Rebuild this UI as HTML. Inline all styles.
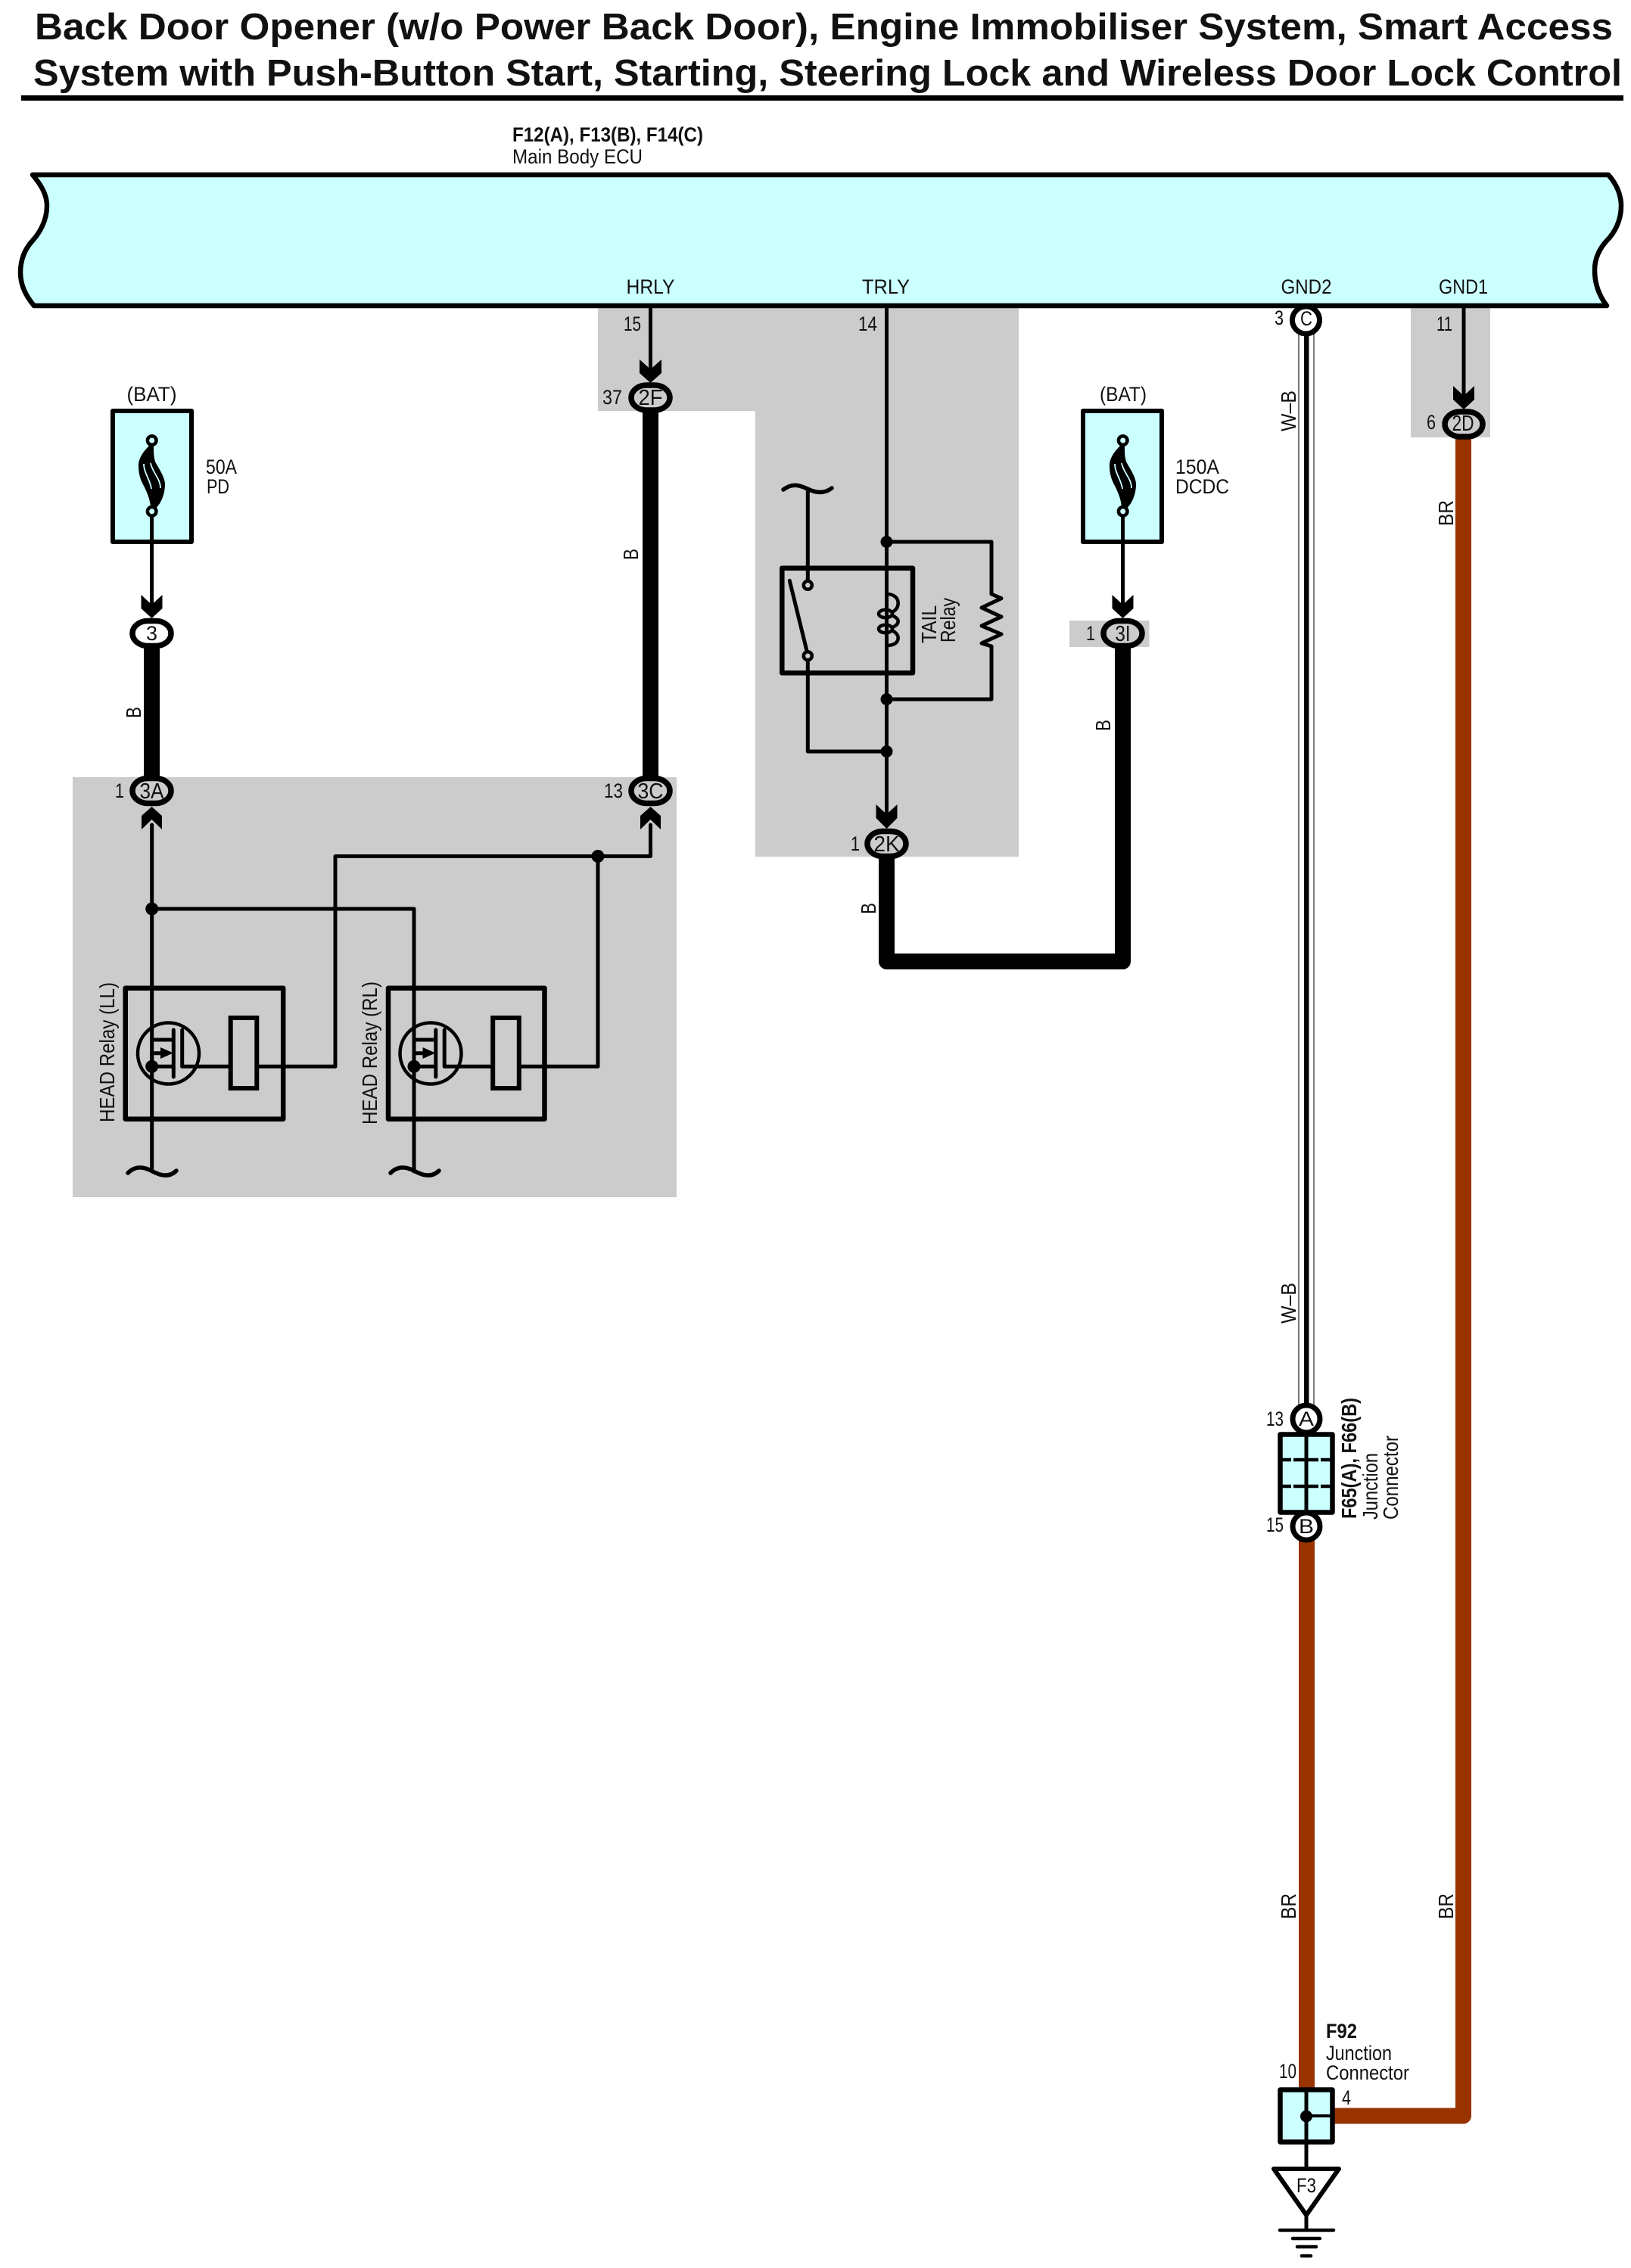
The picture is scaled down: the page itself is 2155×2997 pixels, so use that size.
<!DOCTYPE html>
<html><head><meta charset="utf-8"><title>Back Door Opener Wiring Diagram</title>
<style>
html,body{margin:0;padding:0;background:#fff}
svg{display:block}
text{font-family:"Liberation Sans",sans-serif;fill:#111;font-size:27px}
.r{font-size:28px}
.l{font-size:29px}
.w{fill:none;stroke:#000;stroke-width:5;stroke-linejoin:round;stroke-linecap:round}
.b{fill:#CCFFFF;stroke:#000;stroke-width:6.5;stroke-linejoin:round}
.n{fill:none;stroke:#000;stroke-width:6.5;stroke-linejoin:round}
.c{stroke:#000;stroke-width:7.5;fill:#ccc}
.m{text-anchor:middle}
</style></head><body>
<svg width="2155" height="2997" viewBox="0 0 2155 2997" xmlns="http://www.w3.org/2000/svg">
<rect width="2155" height="2997" fill="#fff"/>

<!-- title -->
<text x="46" y="52" style="font-size:49px;font-weight:bold" textLength="2085" lengthAdjust="spacingAndGlyphs">Back Door Opener (w/o Power Back Door), Engine Immobiliser System, Smart Access</text>
<text x="44" y="113" style="font-size:49px;font-weight:bold" textLength="2099" lengthAdjust="spacingAndGlyphs">System with Push-Button Start, Starting, Steering Lock and Wireless Door Lock Control</text>
<rect x="28" y="126" width="2117" height="7" fill="#000"/>

<text x="677" y="187" style="font-weight:bold" textLength="252" lengthAdjust="spacingAndGlyphs">F12(A), F13(B), F14(C)</text>
<text x="677" y="216" textLength="172" lengthAdjust="spacingAndGlyphs">Main Body ECU</text>

<!-- gray regions -->
<path d="M790 405H1346V1132H998V543H790Z" fill="#ccc"/>
<rect x="1864" y="405" width="105" height="173" fill="#ccc"/>
<rect x="96" y="1027" width="798" height="555" fill="#ccc"/>
<rect x="1413" y="820" width="105.500" height="35" fill="#ccc"/>

<!-- ECU -->
<path d="M43 231H2125C2136 243 2142 258 2142 272C2142 292 2133 308 2123 318C2112 330 2107 343 2107 357C2107 376 2113 391 2123 404H45C35 392 27 378 27 360C27 345 32 330 43 318C52 308 62 292 62 272C62 258 55 245 43 231Z" fill="#CCFFFF" stroke="#000" stroke-width="6.500" stroke-linejoin="round"/>
<text x="859.500" y="388" class="m" textLength="64" lengthAdjust="spacingAndGlyphs">HRLY</text>
<text x="1170.500" y="388" class="m" textLength="63" lengthAdjust="spacingAndGlyphs">TRLY</text>
<text x="1726" y="388" class="m" textLength="67" lengthAdjust="spacingAndGlyphs">GND2</text>
<text x="1933.500" y="388" class="m" textLength="65" lengthAdjust="spacingAndGlyphs">GND1</text>

<!-- thick wires -->
<g fill="none" stroke="#000" stroke-width="21" stroke-linejoin="round">
<path d="M200.500 855V1030"/>
<path d="M859.500 543V1030"/>
<path d="M1171.500 1133V1270.500H1483.500V855"/>
</g>
<g fill="none" stroke="#993300" stroke-width="21" stroke-linejoin="round">
<path d="M1726.500 2030V2760"/>
<path d="M1933.500 578V2796H1762"/>
</g>

<!-- W-B wire -->
<path d="M1716 440V1860" stroke="#777" stroke-width="2" fill="none"/>
<path d="M1736 440V1860" stroke="#555" stroke-width="1.500" fill="none"/>
<rect x="1723" y="440" width="6.500" height="1420" fill="#000"/>

<!-- thin wires top -->
<path class="w" d="M859.500 408V490"/>
<path class="w" d="M1171.500 408V1080"/>
<path class="w" d="M1934 408V525"/>

<!-- fuses -->
<g>
<rect x="149" y="543" width="104" height="173" fill="#CCFFFF" stroke="#000" stroke-width="6" stroke-linejoin="round"/>
<path class="w" d="M200.500 680V800"/>
<path d="M198 588C190 596 183 605 183 615C183 627 186 635 190 642C195 652 198 660 199 670L205 672C211 668 218 655 218 640C218 630 209 618 205 610C203 603 203 598 203 590Z" fill="#000"/>
<path d="M190 613C190 625 199 635 200 646M199 612C201 624 212 632 212 645" fill="none" stroke="#CCFFFF" stroke-width="1.800"/>
<circle cx="200.700" cy="582" r="5.800" fill="#CCFFFF" stroke="#000" stroke-width="4.500"/>
<circle cx="200.700" cy="675.700" r="5.800" fill="#CCFFFF" stroke="#000" stroke-width="4.500"/>
</g>
<g>
<rect x="1431" y="543" width="104" height="173" fill="#CCFFFF" stroke="#000" stroke-width="6" stroke-linejoin="round"/>
<path class="w" d="M1483.500 680V800"/>
<path d="M1481 588C1473 596 1466 605 1466 615C1466 627 1469 635 1473 642C1478 652 1481 660 1482 670L1488 672C1494 668 1501 655 1501 640C1501 630 1492 618 1488 610C1486 603 1486 598 1486 590Z" fill="#000"/>
<path d="M1473 613C1473 625 1482 635 1483 646M1482 612C1484 624 1495 632 1495 645" fill="none" stroke="#CCFFFF" stroke-width="1.800"/>
<circle cx="1483.700" cy="582" r="5.800" fill="#CCFFFF" stroke="#000" stroke-width="4.500"/>
<circle cx="1483.700" cy="675.700" r="5.800" fill="#CCFFFF" stroke="#000" stroke-width="4.500"/>
</g>
<text x="200.500" y="530" class="m" textLength="66" lengthAdjust="spacingAndGlyphs">(BAT)</text>
<text x="1484" y="530" class="m" textLength="62" lengthAdjust="spacingAndGlyphs">(BAT)</text>
<text x="272" y="626" textLength="41" lengthAdjust="spacingAndGlyphs">50A</text>
<text x="273" y="652" textLength="30" lengthAdjust="spacingAndGlyphs">PD</text>
<text x="1553" y="626" textLength="58" lengthAdjust="spacingAndGlyphs">150A</text>
<text x="1553" y="652" textLength="71" lengthAdjust="spacingAndGlyphs">DCDC</text>

<!-- arrowheads -->
<g fill="#000">
<path d="M845 475L859.500 488L874 475V493L859.500 506L845 493Z"/>
<path d="M186.500 786L200.500 799L214.500 786V804L200.500 817L186.500 804Z"/>
<path d="M1469.500 786L1483.500 799L1497.500 786V804L1483.500 817L1469.500 804Z"/>
<path d="M1157.500 1063L1171.500 1076L1185.500 1063V1081L1171.500 1095L1157.500 1081Z"/>
<path d="M1920 510L1934 523L1948 510V528L1934 541L1920 528Z"/>
<path d="M187 1096L200.500 1083L214 1096V1078L200.500 1066L187 1078Z"/>
<path d="M846 1096L859.500 1083L873 1096V1078L859.500 1066L846 1078Z"/>
</g>

<!-- connectors -->
<rect class="c" x="834" y="509" width="51" height="33" rx="20" ry="16.500"/>
<rect class="c" x="175" y="820.500" width="51" height="33" rx="20" ry="16.500" style="fill:#fff"/>
<rect class="c" x="175" y="1028.500" width="51" height="33" rx="20" ry="16.500"/>
<rect class="c" x="834" y="1028.500" width="51" height="33" rx="20" ry="16.500"/>
<rect class="c" x="1146" y="1098.500" width="51" height="33" rx="20" ry="16.500"/>
<rect class="c" x="1458" y="820.500" width="51" height="33" rx="20" ry="16.500"/>
<rect class="c" x="1909" y="544" width="50" height="33" rx="20" ry="16.500"/>
<circle cx="1725.500" cy="423" r="18" fill="#fff" stroke="#000" stroke-width="7"/>
<text x="859.500" y="535" class="m l" textLength="32" lengthAdjust="spacingAndGlyphs">2F</text>
<text x="200.500" y="846" class="m">3</text>
<text x="200.500" y="1055" class="m l" textLength="32" lengthAdjust="spacingAndGlyphs">3A</text>
<text x="859.500" y="1055" class="m l" textLength="34" lengthAdjust="spacingAndGlyphs">3C</text>
<text x="1171.500" y="1125" class="m l" textLength="34" lengthAdjust="spacingAndGlyphs">2K</text>
<text x="1483.500" y="847" class="m l" textLength="20" lengthAdjust="spacingAndGlyphs">3I</text>
<text x="1933" y="569" class="m l" textLength="29" lengthAdjust="spacingAndGlyphs">2D</text>
<text x="1726" y="430" class="m" textLength="16" lengthAdjust="spacingAndGlyphs">C</text>

<!-- pin numbers -->
<text x="824" y="437" textLength="23" lengthAdjust="spacingAndGlyphs">15</text>
<text x="796" y="534" textLength="26" lengthAdjust="spacingAndGlyphs">37</text>
<text x="1134" y="437" textLength="25" lengthAdjust="spacingAndGlyphs">14</text>
<text x="1684" y="429" textLength="12" lengthAdjust="spacingAndGlyphs">3</text>
<text x="1898" y="437" textLength="21" lengthAdjust="spacingAndGlyphs">11</text>
<text x="1885" y="567" textLength="12" lengthAdjust="spacingAndGlyphs">6</text>
<text x="152" y="1054" textLength="12" lengthAdjust="spacingAndGlyphs">1</text>
<text x="798" y="1054" textLength="25" lengthAdjust="spacingAndGlyphs">13</text>
<text x="1124" y="1124" textLength="12" lengthAdjust="spacingAndGlyphs">1</text>
<text x="1435" y="846" textLength="12" lengthAdjust="spacingAndGlyphs">1</text>

<!-- wire labels -->
<g>
<text class="r" transform="translate(186,949) rotate(-90)" textLength="15" lengthAdjust="spacingAndGlyphs">B</text>
<text class="r" transform="translate(843,740) rotate(-90)" textLength="15" lengthAdjust="spacingAndGlyphs">B</text>
<text class="r" transform="translate(1157,1208) rotate(-90)" textLength="15" lengthAdjust="spacingAndGlyphs">B</text>
<text class="r" transform="translate(1467,966) rotate(-90)" textLength="15" lengthAdjust="spacingAndGlyphs">B</text>
<text class="r" transform="translate(1712,570) rotate(-90)" textLength="54" lengthAdjust="spacingAndGlyphs">W–B</text>
<text class="r" transform="translate(1712,1749) rotate(-90)" textLength="54" lengthAdjust="spacingAndGlyphs">W–B</text>
<text class="r" transform="translate(1920,695) rotate(-90)" textLength="34" lengthAdjust="spacingAndGlyphs">BR</text>
<text class="r" transform="translate(1712,2536) rotate(-90)" textLength="34" lengthAdjust="spacingAndGlyphs">BR</text>
<text class="r" transform="translate(1920,2536) rotate(-90)" textLength="34" lengthAdjust="spacingAndGlyphs">BR</text>
</g>

<!-- head relays wiring -->
<path class="w" d="M200.700 1090V1548"/>
<path class="w" d="M200.700 1201H547V1548"/>
<path class="w" d="M859.500 1090V1131.500H443V1409.300H341"/>
<path class="w" d="M790 1131.500V1409.300H687"/>
<circle cx="200.700" cy="1201" r="8.500"/>
<circle cx="790" cy="1131.500" r="8.500"/>

<rect class="n" x="165.700" y="1305.700" width="208.500" height="173"/>
<rect class="n" x="513" y="1305.700" width="206.500" height="173"/>

<g>
<circle cx="222.500" cy="1392" r="40.500" fill="none" stroke="#000" stroke-width="4.500"/>
<path class="w" d="M229.300 1361V1423M240.700 1361V1409.300H305M200.700 1374H229M200.700 1409.300V1391.700H215M200.700 1409.300H229"/>
<path d="M212 1384L229 1391.500L212 1399Z" fill="#000"/>
<circle cx="200.700" cy="1409.300" r="8.500"/>
<rect x="304.700" y="1345" width="34.600" height="93" fill="none" stroke="#000" stroke-width="6"/>
</g>
<g>
<circle cx="569" cy="1392" r="40.500" fill="none" stroke="#000" stroke-width="4.500"/>
<path class="w" d="M575.800 1361V1423M587.200 1361V1409.300H651.500M547 1374H575.500M547 1409.300V1391.700H561.500M547 1409.300H575.500"/>
<path d="M558.500 1384L575.500 1391.500L558.500 1399Z" fill="#000"/>
<circle cx="547" cy="1409.300" r="8.500"/>
<rect x="651.200" y="1345" width="34.600" height="93" fill="none" stroke="#000" stroke-width="6"/>
</g>

<path d="M169 1550C178 1541 188 1541 200 1547C212 1554 224 1556 233 1547" fill="none" stroke="#000" stroke-width="5.500" stroke-linecap="round"/>
<path d="M516 1550C525 1541 535 1541 547 1547C559 1554 571 1556 580 1547" fill="none" stroke="#000" stroke-width="5.500" stroke-linecap="round"/>

<text class="r" transform="translate(151,1483) rotate(-90)" textLength="185" lengthAdjust="spacingAndGlyphs">HEAD Relay (LL)</text>
<text class="r" transform="translate(498,1486) rotate(-90)" textLength="189" lengthAdjust="spacingAndGlyphs">HEAD Relay (RL)</text>

<!-- tail relay -->
<path class="w" d="M1171.500 716H1310V785L1323 790.700L1297 803L1323 815L1297 827L1323 838L1297 850L1310 854V924H1171.500"/>
<circle cx="1171.500" cy="716" r="8"/>
<circle cx="1171.500" cy="924" r="8"/>
<circle cx="1171.500" cy="993" r="8"/>
<rect class="n" x="1033.300" y="750.700" width="172.700" height="138.600"/>
<path d="M1035 647C1047 638 1056 641 1067 646C1079 652 1090 652 1099 645" fill="none" stroke="#000" stroke-width="5.500" stroke-linecap="round"/>
<path class="w" d="M1067.300 646V768M1043.300 767.300L1066 860M1067.300 873V993H1171.500"/>
<circle cx="1067.300" cy="773.300" r="5.500" fill="#ccc" stroke="#000" stroke-width="4.500"/>
<circle cx="1067.300" cy="866.700" r="5.500" fill="#ccc" stroke="#000" stroke-width="4.500"/>
<g fill="none" stroke="#000" stroke-width="4.500">
<path d="M1171.700 785C1181 785 1186.700 790 1186.700 797C1186.700 802 1184 806 1179 809"/>
<ellipse cx="1170" cy="811" rx="9" ry="5.300"/>
<path d="M1179 813C1184 816 1186.700 818 1186.700 821C1186.700 824 1184 827 1179 829"/>
<ellipse cx="1170" cy="831" rx="9" ry="5.300"/>
<path d="M1179 833C1184 836 1186.700 839 1186.700 843C1186.700 849 1181 853 1171.700 853"/>
</g>
<text class="r" transform="translate(1237,850) rotate(-90)" textLength="50" lengthAdjust="spacingAndGlyphs">TAIL</text>
<text class="r" transform="translate(1262,849) rotate(-90)" textLength="59" lengthAdjust="spacingAndGlyphs">Relay</text>

<!-- F65/F66 junction -->
<circle cx="1726" cy="1875" r="18" fill="#fff" stroke="#000" stroke-width="7"/>
<circle cx="1726" cy="2017" r="18" fill="#fff" stroke="#000" stroke-width="7"/>
<text x="1726" y="1884" class="m" textLength="20" lengthAdjust="spacingAndGlyphs">A</text>
<text x="1726" y="2026" class="m" textLength="20" lengthAdjust="spacingAndGlyphs">B</text>
<rect class="b" x="1691.500" y="1895.500" width="69" height="103"/>
<path d="M1726 1895V1999" stroke="#000" stroke-width="5" fill="none"/>
<path d="M1693 1929H1706M1709 1929H1742M1745 1929H1760M1693 1964H1706M1709 1964H1742M1745 1964H1760" stroke="#000" stroke-width="4.500" fill="none"/>
<text x="1673" y="1884" textLength="23" lengthAdjust="spacingAndGlyphs">13</text>
<text x="1673" y="2024" textLength="23" lengthAdjust="spacingAndGlyphs">15</text>
<text class="r" transform="translate(1792,2007) rotate(-90)" style="font-weight:bold" textLength="160" lengthAdjust="spacingAndGlyphs">F65(A), F66(B)</text>
<text class="r" transform="translate(1820,2008) rotate(-90)" textLength="88" lengthAdjust="spacingAndGlyphs">Junction</text>
<text class="r" transform="translate(1847,2008) rotate(-90)" textLength="111" lengthAdjust="spacingAndGlyphs">Connector</text>

<!-- F92 -->
<rect class="b" x="1691.500" y="2761.500" width="69" height="69"/>
<path d="M1726 2760V2866" stroke="#000" stroke-width="5" fill="none"/>
<path d="M1726 2796H1760" stroke="#000" stroke-width="4" fill="none"/>
<circle cx="1726" cy="2796.500" r="8"/>
<text x="1752" y="2693" style="font-weight:bold" textLength="41" lengthAdjust="spacingAndGlyphs">F92</text>
<text x="1752" y="2722" textLength="87" lengthAdjust="spacingAndGlyphs">Junction</text>
<text x="1752" y="2748" textLength="110" lengthAdjust="spacingAndGlyphs">Connector</text>
<text x="1690" y="2746" textLength="23" lengthAdjust="spacingAndGlyphs">10</text>
<text x="1773" y="2781" textLength="12" lengthAdjust="spacingAndGlyphs">4</text>

<!-- ground -->
<path d="M1683 2866H1769L1726 2927Z" fill="#fff" stroke="#000" stroke-width="6" stroke-linejoin="round"/>
<text x="1726" y="2897" class="m" textLength="26" lengthAdjust="spacingAndGlyphs">F3</text>
<path d="M1726 2927V2947" stroke="#000" stroke-width="5" fill="none"/>
<path d="M1691 2947H1762M1708 2958H1744M1714 2969H1739M1720 2981H1732" stroke="#000" stroke-width="4.500" stroke-linecap="round" fill="none"/>
</svg>
</body></html>
